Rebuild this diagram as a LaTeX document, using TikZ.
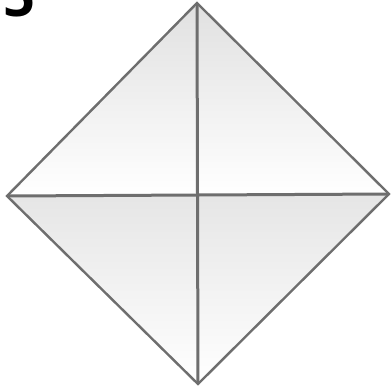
\documentclass[tikz,border=0pt]{standalone}
\usepackage{fontspec}
\newfontfamily\digitfont{Open Sans}
\definecolor{edge}{HTML}{6E6E6E}
\begin{document}
\begin{tikzpicture}[x=1pt,y=-1pt,
  edgeline/.style={draw=edge,line width=2.4pt,line join=miter},
  crossline/.style={draw=edge,line width=3pt}]
\useasboundingbox (0,0) rectangle (392,392);
\clip (0,0) rectangle (392,392);
\coordinate (T) at (197,3);
\coordinate (R) at (389,194);
\coordinate (B) at (198,384);
\coordinate (L) at (7,196);
\coordinate (C) at (198,195);
\shade[top color=black!12,bottom color=white] (T) -- (R) -- (C) -- (L) -- cycle;
\shade[top color=black!10,bottom color=white] (L) -- (C) -- (R) -- (B) -- cycle;
\draw[crossline] (T) -- (B);
\draw[crossline] (L) -- (R);
\draw[edgeline] (T) -- (R) -- (B) -- (L) -- cycle;
\node[anchor=base west,inner sep=0pt,font=\digitfont\bfseries\fontsize{56}{56}\selectfont] (num) at (3,16) {5};
\end{tikzpicture}
\end{document}
